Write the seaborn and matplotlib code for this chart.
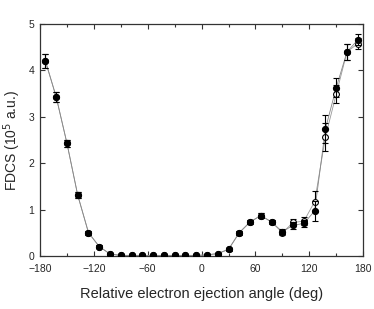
import numpy as np
import pandas as pd
import matplotlib
matplotlib.use("Agg")
import matplotlib.pyplot as plt
import seaborn as sns
from matplotlib.ticker import MultipleLocator

angles = list(range(-174, 175, 12))

filled_vals = [4.21, 3.43, 2.43, 1.31, 0.50, 0.20, 0.04, 0.01, 0.01, 0.01,
               0.01, 0.01, 0.01, 0.01, 0.01, 0.02, 0.05, 0.14, 0.50, 0.73,
               0.87, 0.73, 0.52, 0.66, 0.70, 0.97, 2.74, 3.63, 4.40, 4.66]
filled_err = [0.15, 0.10, 0.08, 0.06, 0.04, 0.03, 0.02, 0.01, 0.01, 0.01,
              0.01, 0.01, 0.01, 0.01, 0.01, 0.01, 0.02, 0.03, 0.04, 0.05,
              0.06, 0.05, 0.05, 0.07, 0.08, 0.22, 0.30, 0.20, 0.18, 0.12]

open_vals = [4.20, 3.43, 2.43, 1.31, 0.50, 0.20, 0.04, 0.01, 0.01, 0.01,
             0.01, 0.01, 0.01, 0.01, 0.01, 0.02, 0.05, 0.14, 0.50, 0.73,
             0.87, 0.73, 0.50, 0.72, 0.75, 1.17, 2.57, 3.49, 4.40, 4.58]
open_err = [0.15, 0.10, 0.08, 0.06, 0.04, 0.03, 0.02, 0.01, 0.01, 0.01,
            0.01, 0.01, 0.01, 0.01, 0.01, 0.01, 0.02, 0.03, 0.04, 0.05,
            0.06, 0.05, 0.05, 0.07, 0.08, 0.23, 0.30, 0.20, 0.18, 0.12]

df = pd.DataFrame({"angle": angles, "filled": filled_vals, "open": open_vals})

sns.set_style("ticks")
plt.rcParams['font.family'] = ['Liberation Sans', 'DejaVu Sans']

fig = plt.figure(figsize=(3.74, 3.09), dpi=100)
ax = fig.add_axes([0.107, 0.172, 0.864, 0.750])

# connecting lines
sns.lineplot(data=df, x="angle", y="open", ax=ax, color="#999999", lw=0.6, zorder=1)
sns.lineplot(data=df, x="angle", y="filled", ax=ax, color="#888888", lw=0.6, zorder=1)

ax.errorbar(angles, open_vals, yerr=open_err, fmt='o', ms=4.2, mfc='white',
            mec='black', mew=0.8, ecolor='black', elinewidth=0.8, capsize=2.2,
            capthick=0.8, zorder=3)
ax.errorbar(angles, filled_vals, yerr=filled_err, fmt='o', ms=4.2, mfc='black',
            mec='black', ecolor='black', elinewidth=0.8, capsize=2.2,
            capthick=0.8, zorder=4)

ax.set_xlim(-180, 180)
ax.set_ylim(0, 5)
ax.xaxis.set_major_locator(MultipleLocator(60))
ax.xaxis.set_minor_locator(MultipleLocator(30))
ax.yaxis.set_major_locator(MultipleLocator(1))
ax.tick_params(which='both', direction='in', top=True, right=True,
               labelsize=7.5, width=0.8, color='#333333')
ax.tick_params(which='major', length=3.5)
ax.tick_params(which='minor', length=2.5)
ax.tick_params(axis='x', pad=6)
ax.tick_params(axis='y', pad=4)
for s in ax.spines.values():
    s.set_linewidth(0.9)
    s.set_color('#333333')

ax.set_xlabel("Relative electron ejection angle (deg)", fontsize=10.5, labelpad=9)
ax.set_ylabel(r"FDCS (10$^5$ a.u.)", fontsize=10, labelpad=4)

fig.savefig("out.png", dpi=100)
